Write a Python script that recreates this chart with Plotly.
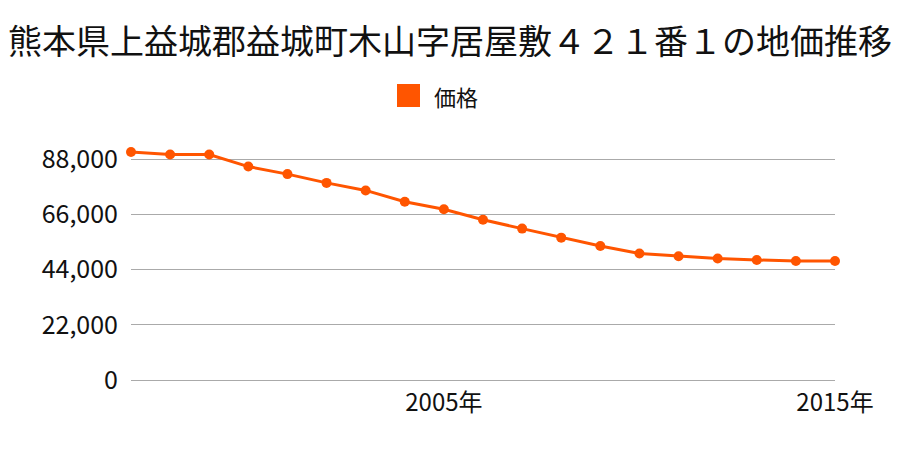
import plotly.graph_objects as go

title = "熊本県上益城郡益城町木山字居屋敷４２１番１の地価推移"
series_name = "価格"
years = [1997, 1998, 1999, 2000, 2001, 2002, 2003, 2004, 2005, 2006,
         2007, 2008, 2009, 2010, 2011, 2012, 2013, 2014, 2015]
prices = [90800, 89800, 89800, 85000, 82000, 78500, 75500, 71000, 68000, 63800,
          60300, 56700, 53400, 50400, 49300, 48400, 47800, 47400, 47400]
y_ticks = [0, 22000, 44000, 66000, 88000]
y_tick_labels = ["0", "22,000", "44,000", "66,000", "88,000"]
x_ticks = [2005, 2015]
x_tick_labels = ["2005年", "2015年"]

COLOR = "#ff5500"
FONT = "Noto Sans CJK JP"

fig = go.Figure()
fig.add_trace(go.Scatter(
    x=years, y=prices, mode="lines+markers", name=series_name,
    line=dict(color=COLOR, width=3),
    marker=dict(color=COLOR, size=10),
    cliponaxis=False, showlegend=False,
))

W, H = 900, 450
ml, mr, mt, mb = 131, 65, 149, 70
pw, ph = W - ml - mr, H - mt - mb

def px2paper_x(px):
    return (px - ml) / pw

def px2paper_y(py):
    return (H - mb - py) / ph

# legend (square + label)
fig.add_shape(type="rect", xref="paper", yref="paper",
              x0=px2paper_x(397), x1=px2paper_x(420),
              y0=px2paper_y(107), y1=px2paper_y(84),
              fillcolor=COLOR, line=dict(width=0))
fig.add_annotation(text=series_name, xref="paper", yref="paper",
                   x=px2paper_x(432), y=px2paper_y(96), xanchor="left", yanchor="middle",
                   showarrow=False, font=dict(family=FONT, size=22, color="#111111"))

fig.update_layout(
    width=W, height=H,
    margin=dict(l=ml, r=mr, t=mt, b=mb),
    paper_bgcolor="white", plot_bgcolor="white",
    title=dict(text=title, x=0.5, xanchor="center", y=1 - 42 / H, yanchor="middle",
               font=dict(family=FONT, size=34, color="#111111")),
    font=dict(family=FONT, color="#111111"),
    xaxis=dict(range=[1997, 2015], tickvals=x_ticks, ticktext=x_tick_labels,
               showgrid=False, zeroline=False, showline=False,
               ticks="", ticklabelstandoff=6,
               tickfont=dict(family=FONT, size=24, color="#111111")),
    yaxis=dict(range=[0, 92000], tickvals=y_ticks, ticktext=y_tick_labels,
               showgrid=True, gridcolor="#aaaaaa", gridwidth=1,
               zeroline=True, zerolinecolor="#aaaaaa", zerolinewidth=1,
               showline=False, ticks="", ticklabelstandoff=12,
               tickfont=dict(family=FONT, size=25, color="#111111")),
)

fig.write_html("out.html")
